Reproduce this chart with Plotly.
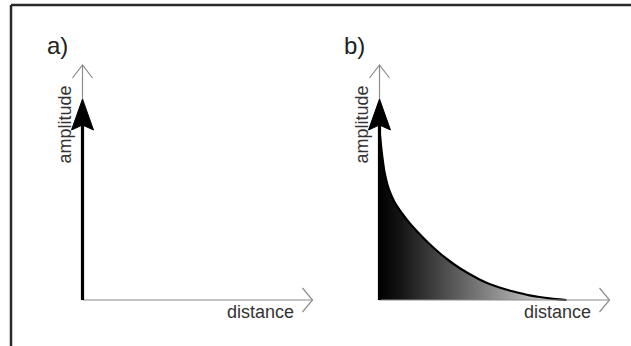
import plotly.graph_objects as go

# ---- data (units: arbitrary amplitude / distance) ----
panel_labels = ["a)", "b)"]
axis_titles_x = ["distance", "distance"]
axis_titles_y = ["amplitude", "amplitude"]
dist_axis_len = 2.30
amp_axis_len = 2.35
spike_amplitude = 2.01          # panel a: single impulse
decay_distance = [0.0, 0.01, 0.02, 0.035, 0.05, 0.075, 0.10, 0.15, 0.23, 0.30, 0.40, 0.50,
                  0.60, 0.70, 0.80, 0.90, 1.00, 1.10, 1.20, 1.30, 1.40, 1.50, 1.60, 1.70, 1.80, 1.87]
decay_amplitude = [1.70, 1.60, 1.50, 1.38, 1.28, 1.17, 1.09, 0.98, 0.86, 0.77, 0.66, 0.56,
                   0.47, 0.39, 0.32, 0.26, 0.205, 0.16, 0.125, 0.095, 0.07, 0.047, 0.03, 0.016, 0.006, 0.0]

AX_COLOR = "#8c8c8c"
TXT_COLOR = "#333333"
FONT = "Liberation Sans, Arial, sans-serif"
HEAD_LEN = 0.31
HEAD_HALF = 0.11
NOTCH = 0.05

fig = go.Figure()

def add_axes(xa, ya):
    L, D = amp_axis_len, dist_axis_len
    fig.add_trace(go.Scatter(x=[0, 0, None, -0.10, 0, 0.10], y=[0, L, None, L - 0.13, L, L - 0.13],
                             mode="lines", line=dict(color=AX_COLOR, width=1.2),
                             xaxis=xa, yaxis=ya, hoverinfo="skip"))
    fig.add_trace(go.Scatter(x=[0, D, None, D - 0.10, D, D - 0.10], y=[0, 0, None, 0.12, 0, -0.12],
                             mode="lines", line=dict(color=AX_COLOR, width=1.2),
                             xaxis=xa, yaxis=ya, hoverinfo="skip"))

def add_arrow(xa, ya, top):
    base = top - HEAD_LEN
    fig.add_trace(go.Scatter(x=[0, 0], y=[0, base + NOTCH], mode="lines",
                             line=dict(color="black", width=3.2),
                             xaxis=xa, yaxis=ya, hoverinfo="skip"))
    fig.add_trace(go.Scatter(x=[0, -HEAD_HALF, 0, HEAD_HALF, 0],
                             y=[top, base, base + NOTCH, base, top],
                             mode="lines", fill="toself", fillcolor="black",
                             line=dict(color="black", width=1),
                             xaxis=xa, yaxis=ya, hoverinfo="skip"))

# panel a
add_axes("x", "y")
add_arrow("x", "y", spike_amplitude)

# panel b
fill_x = [0.0] + decay_distance + [0.0]
fill_y = [0.0] + decay_amplitude + [0.0]
fig.add_trace(go.Scatter(x=fill_x, y=fill_y, mode="lines", fill="toself",
                         line=dict(width=0, color="rgba(0,0,0,0)"),
                         fillgradient=dict(type="horizontal",
                                           colorscale=[[0, "#000000"], [0.12, "#161616"], [1, "#e8e8e8"]]),
                         xaxis="x2", yaxis="y2", hoverinfo="skip"))
fig.add_trace(go.Scatter(x=decay_distance, y=decay_amplitude, mode="lines",
                         line=dict(color="black", width=2.2, shape="spline", smoothing=0.7),
                         xaxis="x2", yaxis="y2", hoverinfo="skip"))
add_axes("x2", "y2")
add_arrow("x2", "y2", spike_amplitude)

# text
for i, (xr, yr) in enumerate([("x", "y"), ("x2", "y2")]):
    fig.add_annotation(x=-0.375, y=2.55, xref=xr, yref=yr, text=panel_labels[i], showarrow=False,
                       xanchor="left", yanchor="middle", font=dict(family=FONT, size=24, color="#222"))
    fig.add_annotation(x=2.13, y=-0.12, xref=xr, yref=yr, text=axis_titles_x[i], showarrow=False,
                       xanchor="right", yanchor="middle", font=dict(family=FONT, size=18, color=TXT_COLOR))
    fig.add_annotation(x=-0.18, y=1.75, xref=xr, yref=yr, text=axis_titles_y[i], showarrow=False,
                       textangle=-90, xanchor="center", yanchor="middle",
                       font=dict(family=FONT, size=18, color=TXT_COLOR))

# frame
W, H = 631, 346
fig.add_shape(type="line", xref="paper", yref="paper", x0=11 / W, x1=11 / W, y0=1 - 5 / H, y1=-0.1,
              line=dict(color="#2a2a2a", width=2.5))
fig.add_shape(type="line", xref="paper", yref="paper", x0=11 / W, x1=1.1, y0=1 - 5 / H, y1=1 - 5 / H,
              line=dict(color="#2a2a2a", width=2.5))

hidden = dict(visible=False, showgrid=False, zeroline=False, fixedrange=True)
fig.update_layout(
    width=W, height=H, margin=dict(l=0, r=0, t=0, b=0),
    paper_bgcolor="white", plot_bgcolor="white", showlegend=False,
    xaxis=dict(domain=[0, 0.5], range=[-0.825, 2.33], anchor="y", **hidden),
    xaxis2=dict(domain=[0.5, 1], range=[-0.64, 2.515], anchor="y2", **hidden),
    yaxis=dict(domain=[0, 1], range=[-0.46, 3.0], anchor="x", **hidden),
    yaxis2=dict(domain=[0, 1], range=[-0.46, 3.0], anchor="x2", **hidden),
)

fig.write_html("out.html", config={"displayModeBar": False},
               post_script="document.body.style.margin='0';document.body.style.overflow='hidden';")
